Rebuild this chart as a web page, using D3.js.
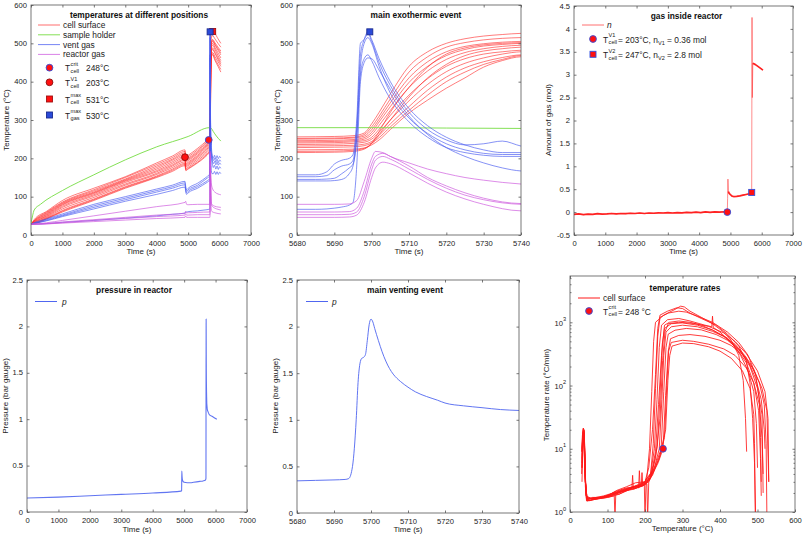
<!DOCTYPE html>
<html><head><meta charset="utf-8">
<script src="https://cdn.jsdelivr.net/npm/d3@7"></script>
<style>body{margin:0;background:#fff}</style>
</head><body><svg id="c" width="803" height="536"></svg>
<script>
// ---------------- DATA ----------------
const timeTicks = [0,1000,2000,3000,4000,5000,6000,7000];
const zoomTicks = [5680,5690,5700,5710,5720,5730,5740];
const tempTicks = [0,100,200,300,400,500,600];
const gasTicks = [-0.5,0,0.5,1,1.5,2,2.5,3,3.5,4,4.5];
const presTicks = [0,0.5,1,1.5,2,2.5];
const rateTicks = [1,10,100,1000];
const rateExp = ["0","1","2","3"];

const cellTime = [0,100,500,1000,2000,3000,4000,4500,4900,4925,5000,5300,5600,5680,5690,5695,5698,5700,5702,5705,5710,5715,5720,5725,5730,5735,5740,5780,5850,5950,6040];
const cell1 = [28,40,62,90,122,152,188,206,222,204,208,226,248,256,257,259,266,290,320,368,440,478,500,512,519,523,526,531,526,512,500];
const cell2 = [28,38,60,86,118,150,184,202,218,200,204,222,244,252,253,255,262,282,310,355,425,465,490,502,509,513,515,520,512,500,490];
const cell3 = [28,37,58,84,115,146,180,198,214,196,200,218,242,250,251,253,258,275,302,345,410,452,478,492,499,503,505,510,502,490,480];
const cell4 = [28,36,56,82,112,144,176,195,210,193,197,215,238,246,247,249,254,268,295,335,398,440,468,484,493,497,500,505,496,482,470];
const cell5 = [28,35,54,80,110,142,172,191,206,190,194,212,235,243,244,246,250,262,286,325,385,428,458,476,486,492,495,500,490,475,462];
const cell6 = [28,34,52,78,108,140,168,187,202,186,190,208,232,240,241,243,246,255,276,312,365,408,440,460,472,478,482,488,478,462,450];
const cell7 = [28,33,50,75,105,137,165,183,198,183,187,205,228,236,237,239,242,250,268,300,350,393,426,448,462,472,478,484,474,458,445];
const cell8 = [28,32,48,72,102,133,161,180,195,180,184,202,224,232,233,234,237,244,260,290,335,378,412,436,452,463,470,476,466,452,440];
const cell9 = [28,31,46,68,98,130,158,176,191,177,181,198,220,228,229,230,233,240,254,282,325,365,400,425,445,458,468,472,460,445,432];
const cell10 = [28,30,44,64,94,126,154,172,187,173,177,194,215,222,223,224,227,235,248,275,318,352,383,410,438,455,465,470,456,440,425];
const cell11 = [28,30,43,62,92,124,152,169,184,170,174,190,211,218,219,221,226,238,262,300,360,410,445,468,480,486,490,495,485,468,455];
const cell12 = [28,29,42,60,90,122,150,166,181,168,172,188,208,215,216,218,224,240,270,320,385,438,472,488,496,500,502,508,498,486,475];

const holderTime = [0,50,100,300,1000,2000,3000,4000,5000,5680,5700,5720,5740,5800,5900,6040];
const holderVal = [30,50,65,80,116,157,196,230,257,280,280,279,278,270,258,245];

const ventTime = [0,100,500,1000,2000,3000,4000,4500,4900,4925,4950,5000,5300,5600,5680,5685,5688,5690,5692,5694,5695,5696,5697,5698,5699,5700,5702,5705,5710,5715,5720,5725,5730,5735,5740,5760,5800,5840,5880,5920,5960,6000,6040];
const vent1 = [28,32,42,55,80,100,120,130,140,125,118,122,135,152,157,157,165,185,195,200,210,300,500,510,525,505,450,390,320,275,248,235,238,245,232,212,200,208,198,207,199,205,201];
const vent2 = [28,31,40,52,76,96,116,126,136,120,114,118,130,148,152,152,155,170,180,185,195,280,470,510,530,510,460,400,330,285,255,235,222,215,215,205,194,200,190,198,189,196,192];
const vent3 = [28,30,38,50,72,92,112,122,131,116,110,114,126,141,145,145,146,148,160,175,185,260,440,500,515,500,440,370,305,265,238,222,213,210,210,198,186,192,183,190,182,188,184];
const vent4 = [28,30,37,48,68,88,106,116,125,112,106,110,122,137,141,141,141,142,145,160,180,250,420,460,470,455,410,355,295,255,228,215,208,205,205,192,176,182,172,180,171,178,174];
const vent5 = [28,28,30,33,38,44,50,54,57,60,60,61,63,66,67,67,68,70,73,78,85,180,400,450,462,460,430,380,310,262,228,205,188,175,167,160,160,166,158,165,158,164,160];

const reactorTime = [0,500,1000,2000,3000,4000,4900,4920,4950,5000,5300,5680,5690,5694,5696,5698,5700,5701,5703,5705,5710,5715,5720,5725,5730,5740,5780,5850,5950,6040];
const reactor1 = [28,32,38,50,62,74,85,88,80,79,80,80,80,81,90,140,200,218,215,205,188,172,160,150,143,133,120,112,107,105];
const reactor2 = [28,30,34,40,46,52,57,62,58,58,59,60,60,61,70,115,185,205,213,205,180,150,128,110,96,82,78,75,73,72];
const reactor3 = [28,29,32,38,43,48,52,56,52,52,53,53,53,54,60,100,170,195,205,198,172,145,122,104,92,80,74,70,67,65];
const reactor4 = [28,29,31,35,39,43,46,50,46,46,46,46,46,47,52,85,150,175,190,186,162,135,112,94,80,63,60,58,56,55];

const gasTime = [0,150,300,450,600,750,900,1050,1200,1350,1500,1650,1800,1950,2100,2250,2400,2550,2700,2850,3000,3150,3300,3450,3600,3750,3900,4050,4200,4350,4500,4650,4800,4900,4910,4920,4935,4950,5000,5050,5100,5200,5300,5400,5500,5600,5680,5690,5700,5715,5800,5900,6040];
const gasVal = [-0.05,-0.04,-0.055,-0.045,-0.05,-0.035,-0.045,-0.04,-0.03,-0.04,-0.03,-0.035,-0.025,-0.03,-0.02,-0.03,-0.02,-0.025,-0.015,-0.02,-0.01,-0.02,-0.01,-0.015,-0.005,-0.012,-0.002,-0.01,0.005,-0.005,0.005,0,0.008,0,0.3,0.72,0.45,0.42,0.38,0.35,0.34,0.345,0.355,0.37,0.385,0.4,0.43,4.25,2.5,3.25,3.22,3.17,3.1];

const presTime = [0,1000,2000,3000,4000,4900,4920,4925,4935,4950,5000,5100,5200,5300,5400,5500,5600,5680,5685,5690,5693,5694,5695,5696,5696.5,5697,5697.5,5698,5698.5,5699,5699.5,5700,5700.5,5701,5702,5703,5704,5705,5706,5708,5710,5712,5715,5718,5720,5725,5730,5735,5740,5760,5800,5900,6040];
const presVal = [0.15,0.16,0.175,0.19,0.205,0.225,0.23,0.44,0.38,0.34,0.32,0.315,0.315,0.32,0.325,0.33,0.335,0.345,0.35,0.355,0.36,0.37,0.5,1.0,1.4,1.6,1.66,1.67,1.7,1.85,2.02,2.08,2.05,1.98,1.85,1.73,1.63,1.55,1.49,1.41,1.35,1.3,1.25,1.21,1.18,1.15,1.13,1.11,1.1,1.08,1.05,1.03,1.0];

// temperature rate curves: [temperature °C, rate °C/min]
const rate1 = [[31,9],[33,16],[35,21],[37,19],[39,8],[41,2.5],[44,1.6],[55,1.65],[80,1.7],[110,1.8],[140,2.1],[170,2.3],[195,2.6],[205,3.5],[212,10],[218,80],[223,500],[228,1000],[250,1300],[280,1600],[295,1800],[305,1750],[320,1500],[350,1200],[380,950],[410,700],[430,520],[450,300],[462,120],[468,30],[471,9]];
const rate2 = [[32,3],[34,12],[36,19],[38,17],[40,5],[43,1.8],[50,1.5],[70,1.6],[100,1.7],[118,1.8],[120,0.8],[122,1.9],[130,1.9],[160,2.3],[185,2.8],[200,3],[210,5],[220,20],[228,150],[234,800],[240,1300],[260,1500],[285,1700],[300,1650],[320,1400],[350,1150],[390,900],[420,650],[450,420],[470,250],[480,110],[487,30],[492,6],[495,0.9]];
const rate3 = [[33,6],[35,14],[37,20],[39,12],[41,3],[45,1.7],[60,1.6],[90,1.75],[120,2.0],[150,2.2],[180,2.6],[205,3],[215,4],[225,10],[232,60],[238,400],[244,900],[260,1100],[290,1150],[320,1050],[360,900],[378,850],[380,1250],[382,830],[400,700],[430,480],[455,300],[475,170],[490,80],[497,25],[500,5]];
const rate4 = [[32,10],[34,18],[36,21],[38,14],[40,4],[44,1.5],[60,1.7],[90,1.7],[120,2.1],[150,2.4],[180,2.5],[200,2.8],[215,3.5],[228,9],[236,50],[244,300],[252,900],[265,1000],[290,1050],[320,1000],[350,900],[380,750],[410,600],[440,420],[470,230],[490,110],[503,40],[508,7],[510,1.8]];
const rate5 = [[33,5],[35,13],[37,18],[39,10],[42,2.2],[46,1.5],[70,1.6],[100,1.8],[125,2.2],[150,2.5],[175,2.9],[198,3],[200,0.8],[203,3.3],[220,4.5],[233,11],[240,70],[246,450],[252,800],[270,950],[300,980],[340,900],[380,760],[420,560],[450,380],[480,200],[500,90],[512,35],[515,2]];
const rate6 = [[31,4],[33,11],[35,17],[37,15],[40,4],[44,1.6],[60,1.65],[90,1.8],[115,2.0],[145,2.3],[175,2.6],[183,2.4],[185,4.5],[187,2.5],[205,3],[225,5],[238,10],[245,60],[250,300],[256,700],[270,850],[300,900],[340,850],[380,720],[410,600],[440,450],[470,280],[495,130],[510,60],[518,20],[520,10]];
const rate7 = [[32,7],[34,14],[36,19],[38,16],[41,3],[45,1.5],[65,1.6],[95,1.7],[125,2.0],[155,2.3],[165,2.4],[167,3.8],[169,2.3],[185,2.5],[210,3],[230,6],[243,10],[250,80],[256,400],[262,650],[280,750],[310,800],[350,760],[390,640],[420,520],[450,370],[480,230],[505,110],[518,50],[523,12],[525,0.9]];
const rate8 = [[33,9],[35,17],[37,20],[39,9],[42,2],[47,1.6],[70,1.7],[100,1.75],[130,2.0],[160,2.4],[190,2.7],[215,3.5],[235,6],[248,10],[255,70],[262,350],[268,550],[290,620],[320,640],[360,600],[400,520],[430,430],[460,310],[490,180],[512,90],[525,40],[530,3]];
const rate9 = [[32,6],[34,15],[36,20],[38,13],[41,3],[45,1.7],[70,1.6],[100,1.7],[130,1.9],[160,2.3],[190,2.6],[205,2.8],[207,0.8],[210,3],[238,7],[252,15],[258,100],[263,350],[270,480],[300,520],[330,500],[370,450],[410,380],[440,300],[470,190],[490,110],[505,50],[512,15],[515,4]];
const rate10 = [[33,8],[35,16],[37,19],[39,11],[42,2.5],[46,1.6],[80,1.7],[110,1.9],[140,2.2],[170,2.5],[190,2.6],[192,4.2],[194,2.6],[200,2.7],[220,3.8],[240,8],[255,20],[261,120],[266,300],[272,420],[300,470],[330,460],[370,410],[400,350],[430,270],[460,170],[480,90],[490,35],[492,12],[494,0.9]];
const rate11 = [[31,5],[33,12],[35,18],[37,17],[40,5],[43,1.8],[60,1.6],[90,1.7],[120,2.0],[150,2.3],[180,2.6],[200,3],[215,4],[222,12],[228,90],[234,600],[240,1200],[262,1400],[290,1500],[310,1450],[340,1250],[380,1000],[420,700],[450,480],[475,300],[495,150],[505,60],[508,15],[510,3]];
const rate12 = [[32,9],[34,17],[36,21],[38,15],[41,3],[46,1.5],[75,1.65],[105,1.8],[135,2.1],[165,2.3],[195,2.6],[212,3.2],[228,7],[240,30],[247,250],[253,700],[262,950],[290,1000],[330,960],[370,860],[410,680],[440,500],[470,320],[500,170],[520,80],[528,30],[530,3]];

// markers
const critPoint = [5655, 248];
const v1Point = [4900, 203];
const cellMaxPoint = [5780, 531];
const gasMaxPoint = [5699.5, 530];
const gasV1Point = [4900, 0];
const gasV2Point = [5680, 0.43];
const rateCritPoint = [248, 10];

// ---------------- DRAWING ----------------
const svg = d3.select('#c');
const FONT = '"Liberation Sans", Arial, Helvetica, sans-serif';
const AX = '#555';
const TL = 2.5;
const FS = 7.6;
const LFS = 8;

function panel(o){
  const x = d3.scaleLinear().domain(o.xd).range([o.x0,o.x1]);
  const y = (o.log ? d3.scaleLog() : d3.scaleLinear()).domain(o.yd).range([o.y1,o.y0]);
  const id = 'clip'+o.id;
  svg.append('clipPath').attr('id',id).append('rect')
    .attr('x',o.x0).attr('y',o.y0).attr('width',o.x1-o.x0).attr('height',o.y1-o.y0);
  const plot = svg.append('g').attr('clip-path',`url(#${id})`);
  const axes = svg.append('g');
  const fmt = v => String(v);
  const style = g => {
    g.select('.domain').remove();
    g.attr('font-size',null).attr('font-family',null);
    g.selectAll('line').attr('stroke',AX).attr('stroke-width',0.8);
    g.selectAll('text').attr('font-size',FS).attr('font-family',FONT).attr('fill','#222');
  };
  axes.append('g').attr('transform',`translate(0,${o.y1})`)
    .call(d3.axisBottom(x).tickValues(o.xt).tickSize(-TL).tickPadding(5.5).tickFormat(fmt)).call(style);
  axes.append('g').attr('transform',`translate(0,${o.y0})`)
    .call(d3.axisTop(x).tickValues(o.xt).tickSize(-TL).tickFormat('')).call(style);
  const yl = axes.append('g').attr('transform',`translate(${o.x0},0)`)
    .call(d3.axisLeft(y).tickValues(o.yt).tickSize(-TL).tickPadding(4).tickFormat(o.log?'':fmt)).call(style);
  yl.selectAll('text').attr('dy','0.28em');
  axes.append('g').attr('transform',`translate(${o.x1},0)`)
    .call(d3.axisRight(y).tickValues(o.yt).tickSize(-TL).tickFormat('')).call(style);
  if (o.log){
    const minor = [];
    [1,10,100,1000].forEach(d=>{for(let k=2;k<=9;k++){ if(d*k<=o.yd[1]) minor.push(d*k);} });
    axes.append('g').attr('transform',`translate(${o.x0},0)`)
      .call(d3.axisLeft(y).tickValues(minor).tickSize(-1.5).tickFormat('')).call(style);
    axes.append('g').attr('transform',`translate(${o.x1},0)`)
      .call(d3.axisRight(y).tickValues(minor).tickSize(-1.5).tickFormat('')).call(style);
    o.yt.forEach((v,i)=>{
      const t = axes.append('text').attr('x',o.x0-4).attr('y',y(v)+3.2)
        .attr('text-anchor','end').attr('font-family',FONT).attr('font-size',FS).attr('fill','#222');
      t.append('tspan').text('10');
      t.append('tspan').attr('dy',-4.5).attr('font-size',5.6).text(rateExp[i]);
    });
  }
  axes.append('rect').attr('x',o.x0).attr('y',o.y0).attr('width',o.x1-o.x0).attr('height',o.y1-o.y0)
    .attr('fill','none').attr('stroke',AX).attr('stroke-width',0.8);
  // labels
  axes.append('text').attr('x',(o.x0+o.x1)/2).attr('y',o.xly).attr('text-anchor','middle')
    .attr('font-family',FONT).attr('font-size',LFS).attr('fill','#222').text(o.xl);
  axes.append('text').attr('transform',`translate(${o.ylx},${o.yly}) rotate(-90)`).attr('text-anchor','middle')
    .attr('font-family',FONT).attr('font-size',LFS).attr('fill','#222').text(o.yl);
  axes.append('text').attr('x',o.tx).attr('y',o.ty).attr('text-anchor','middle')
    .attr('font-family',FONT).attr('font-size',8.4).attr('font-weight','bold').attr('fill','#111').text(o.title);
  return {x,y,plot,axes};
}

function series(P, xs, ys, color, w, op, curve){
  const line = d3.line().x((d,i)=>P.x(xs[i])).y(d=>P.y(d)).curve(curve||d3.curveMonotoneX);
  P.plot.append('path').datum(ys).attr('d',line).attr('fill','none')
    .attr('stroke',color).attr('stroke-width',w).attr('stroke-opacity',op).attr('stroke-linejoin','round');
}
function pairSeries(P, pts, color, w, op){
  const line = d3.line().x(d=>P.x(d[0])).y(d=>P.y(d[1]));
  P.plot.append('path').datum(pts).attr('d',line).attr('fill','none')
    .attr('stroke',color).attr('stroke-width',w).attr('stroke-opacity',op).attr('stroke-linejoin','round');
}
function marker(g, cx, cy, shape, fill, stroke){
  if (shape==='c') g.append('circle').attr('cx',cx).attr('cy',cy).attr('r',3.4).attr('fill',fill).attr('stroke',stroke).attr('stroke-width',0.9);
  else g.append('rect').attr('x',cx-3).attr('y',cy-3).attr('width',6).attr('height',6).attr('fill',fill).attr('stroke',stroke).attr('stroke-width',0.9);
}
function txt(g, x, y, s, size, opts){
  const t = g.append('text').attr('x',x).attr('y',y).attr('font-family',FONT).attr('font-size',size||8.4).attr('fill','#222').text(s);
  if (opts && opts.italic) t.attr('font-style','italic');
  return t;
}
// T with stacked super/sub script, followed by rest parts
function tLabel(g, x, cy, sup, sub, rest){
  txt(g, x, cy+3.5, 'T', 8.4);
  const a = txt(g, x+5.6, cy-1.8, sup, 5.6);
  const b = txt(g, x+5.6, cy+5.2, sub, 5.6);
  const w = Math.max(a.node().getComputedTextLength(), b.node().getComputedTextLength());
  let xx = x+5.6+w+1;
  if (rest){
    const t = g.append('text').attr('x',xx).attr('y',cy+3.5).attr('font-family',FONT).attr('font-size',8.4).attr('fill','#222');
    rest.forEach(p=>{
      if (p.sub) t.append('tspan').attr('dy',2).attr('font-size',5.6).text(p.t);
      else if (p.after) t.append('tspan').attr('dy',-2).attr('font-size',8.4).text(p.t);
      else t.append('tspan').text(p.t);
    });
  }
  return xx;
}

const RED='#ff2020', GREEN='#77dd44', BLUE='#4a5cf0', MAG='#cc55dd';
const MRED='#ff1010', MBLUE='#3050e0';

function drawTemps(P){
  [cell1,cell2,cell3,cell4,cell5,cell6,cell7,cell8,cell9,cell10,cell11,cell12].forEach(v=>series(P,cellTime,v,RED,0.9,0.65));
  series(P,holderTime,holderVal,GREEN,1,0.9);
  [vent1,vent2,vent3,vent4,vent5].forEach(v=>series(P,ventTime,v,BLUE,0.9,0.75));
  [reactor1,reactor2,reactor3,reactor4].forEach(v=>series(P,reactorTime,v,MAG,0.9,0.75));
}

// Panel 1
const P1 = panel({id:1,x0:31,x1:251,y0:5,y1:235,xd:[0,7000],yd:[0,600],xt:timeTicks,yt:[0,100,200,300,400,500,600],
  xl:'Time (s)',xly:254,yl:'Temperature (°C)',ylx:8.5,yly:120,title:'temperatures at different positions',tx:139,ty:17.5});
drawTemps(P1);
marker(P1.plot,P1.x(v1Point[0]),P1.y(v1Point[1]),'c',MRED,'#8a1010');
marker(P1.plot,P1.x(critPoint[0]),P1.y(critPoint[1]),'c',MRED,MBLUE);
marker(P1.plot,P1.x(cellMaxPoint[0]),P1.y(cellMaxPoint[1]),'s',MRED,'#a01010');
marker(P1.plot,P1.x(gasMaxPoint[0]),P1.y(gasMaxPoint[1]),'s','#2a4ad8','#1a2a90');
{
  const g = P1.axes;
  [['cell surface',RED,0.65],['sample holder',GREEN,0.9],['vent gas',BLUE,0.75],['reactor gas',MAG,0.75]].forEach((e,i)=>{
    const cy = 25+i*9.8;
    g.append('line').attr('x1',38).attr('x2',60).attr('y1',cy).attr('y2',cy).attr('stroke',e[1]).attr('stroke-opacity',e[2]).attr('stroke-width',1);
    txt(g,63,cy+3,e[0]);
  });
  const rows = [[67.7,'c',MRED,MBLUE,'crit','cell','248°C'],[82.3,'c',MRED,'#8a1010','V1','cell','203°C'],
                [99,'s',MRED,'#a01010','max','cell','531°C'],[115,'s','#2a4ad8','#1a2a90','max','gas','530°C']];
  rows.forEach(r=>{
    marker(g,49.5,r[0],r[1],r[2],r[3]);
    tLabel(g,65,r[0],r[4],r[5]);
    txt(g,86,r[0]+3.5,r[6]);
  });
}

// Panel 2
const P2 = panel({id:2,x0:297,x1:521,y0:5,y1:235,xd:[5680,5740],yd:[0,600],xt:zoomTicks,yt:[0,100,200,300,400,500,600],
  xl:'Time (s)',xly:254,yl:'Temperature (°C)',ylx:279.5,yly:120,title:'main exothermic event',tx:416,ty:17.5});
drawTemps(P2);
marker(P2.plot,P2.x(gasMaxPoint[0]),P2.y(gasMaxPoint[1]),'s','#2a4ad8','#1a2a90');

// Panel 3
const P3 = panel({id:3,x0:574,x1:793,y0:6,y1:235,xd:[0,7000],yd:[-0.5,4.5],xt:timeTicks,yt:gasTicks,
  xl:'Time (s)',xly:254,yl:'Amount of gas (mol)',ylx:551,yly:120,title:'gas inside reactor',tx:686.5,ty:19});
series(P3,gasTime,gasVal,'#ff4040',1,0.6,d3.curveLinear);
{
  const idx = gasTime.map((t,i)=>i);
  const segs = [idx.filter(i=>gasTime[i]<=4900), idx.filter(i=>gasTime[i]>=4935&&gasTime[i]<=5680), idx.filter(i=>gasTime[i]>=5715)];
  segs.forEach(s=>series(P3,s.map(i=>gasTime[i]),s.map(i=>gasVal[i]),'#ff1a1a',1.7,0.95,d3.curveLinear));
}
marker(P3.plot,P3.x(gasV1Point[0]),P3.y(gasV1Point[1]),'c',MRED,MBLUE);
marker(P3.plot,P3.x(gasV2Point[0]),P3.y(gasV2Point[1]),'s',MRED,MBLUE);
{
  const g = P3.axes;
  g.append('line').attr('x1',582).attr('x2',604).attr('y1',25).attr('y2',25).attr('stroke','#ff4040').attr('stroke-opacity',0.75).attr('stroke-width',1);
  txt(g,607,28,'n',8.4,{italic:true});
  marker(g,593,39,'c',MRED,MBLUE);
  tLabel(g,603,39,'V1','cell',[{t:'= 203°C, n'},{t:'V1',sub:true},{t:' = 0.36 mol',after:true}]);
  marker(g,593,54.3,'s',MRED,MBLUE);
  tLabel(g,603,54.3,'V2','cell',[{t:'= 247°C, n'},{t:'V2',sub:true},{t:' = 2.8 mol',after:true}]);
}

// Panel 4
const P4 = panel({id:4,x0:27,x1:247,y0:280,y1:512,xd:[0,7000],yd:[0,2.5],xt:timeTicks,yt:presTicks,
  xl:'Time (s)',xly:531.5,yl:'Pressure (bar gauge)',ylx:8,yly:396,title:'pressure in reactor',tx:134,ty:293.2});
series(P4,presTime,presVal,'#5066f0',1.1,0.9);
{
  const g = P4.axes;
  g.append('line').attr('x1',35).attr('x2',57).attr('y1',301.5).attr('y2',301.5).attr('stroke','#5066f0').attr('stroke-width',1);
  txt(g,62,304.5,'p',8.4,{italic:true});
}

// Panel 5
const P5 = panel({id:5,x0:297,x1:519,y0:280,y1:513,xd:[5680,5740],yd:[0,2.5],xt:zoomTicks,yt:presTicks,
  xl:'Time (s)',xly:531.5,yl:'Pressure (bar gauge)',ylx:278,yly:396,title:'main venting event',tx:405,ty:293.2});
series(P5,presTime,presVal,'#5066f0',1,0.9);
{
  const g = P5.axes;
  g.append('line').attr('x1',306).attr('x2',328).attr('y1',301.5).attr('y2',301.5).attr('stroke','#5066f0').attr('stroke-width',1);
  txt(g,332,304.5,'p',8.4,{italic:true});
}

// Panel 6
const P6 = panel({id:6,x0:570,x1:795,y0:276,y1:512,xd:[0,600],yd:[1,5400],log:true,xt:tempTicks,yt:rateTicks,
  xl:'Temperature (°C)',xly:531,yl:'Temperature rate (°C/min)',ylx:549,yly:395,title:'temperature rates',tx:685,ty:290.8});
[rate1,rate2,rate3,rate4,rate5,rate6,rate7,rate8,rate9,rate10,rate11,rate12].forEach(r=>pairSeries(P6,r,'#ff1a1a',1,0.85));
marker(P6.plot,P6.x(rateCritPoint[0]),P6.y(rateCritPoint[1]),'c',MRED,MBLUE);
{
  const g = P6.axes;
  g.append('line').attr('x1',578).attr('x2',600).attr('y1',298).attr('y2',298).attr('stroke','#ff1a1a').attr('stroke-width',1);
  txt(g,603,301,'cell surface');
  marker(g,589,311,'c',MRED,MBLUE);
  tLabel(g,603,311,'crit','cell',[{t:'= 248 °C'}]);
}
</script>
</body></html>
